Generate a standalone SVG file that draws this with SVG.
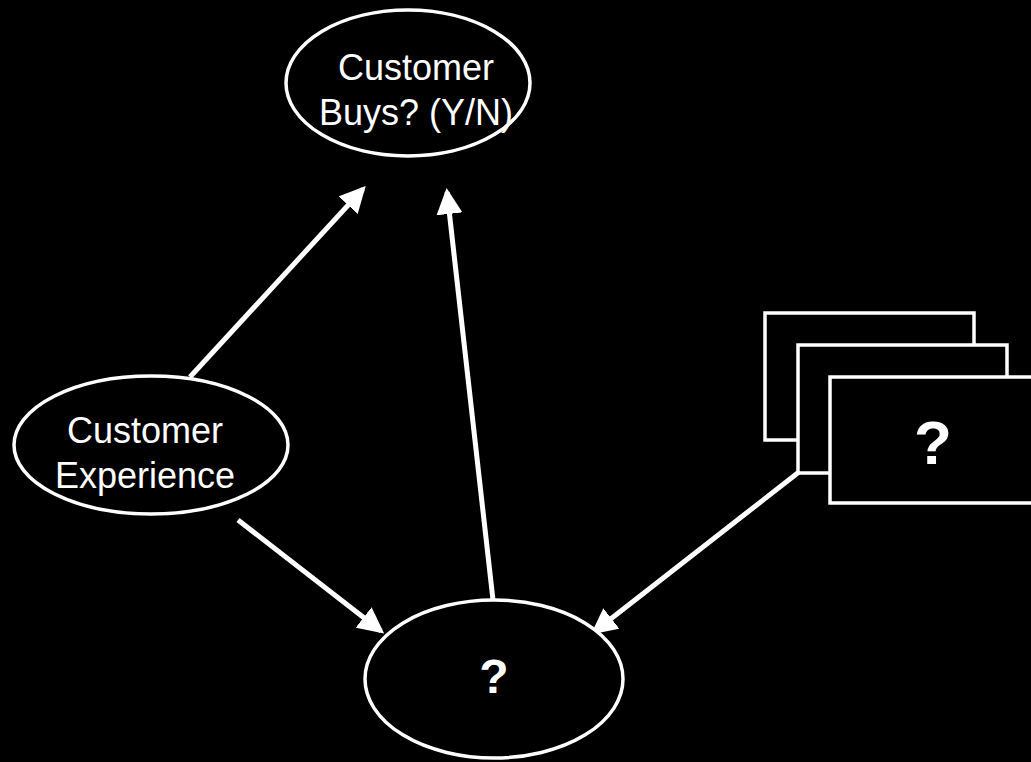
<svg xmlns="http://www.w3.org/2000/svg" width="1031" height="762" viewBox="0 0 1031 762">
  <style>
    .shape { fill: #000; stroke: #fff; stroke-width: 3.5; }
    .label { fill: #fff; font-family: "Liberation Sans", Arial, sans-serif; font-size: 36px; text-anchor: middle; }
    .q { font-weight: bold; }
    .edge { stroke: #fff; stroke-width: 5; fill: none; marker-end: url(#arrow); }
  </style>
  <defs>
    <marker id="arrow" markerUnits="userSpaceOnUse" viewBox="0 0 26 26" markerWidth="26" markerHeight="26" refX="22" refY="13" orient="auto">
      <path d="M0,0 L26,13 L0,26 Z" fill="#fff"/>
    </marker>
  </defs>
  <rect width="1031" height="762" fill="#000"/>

  <g id="connectors">
    <line class="edge" x1="190" y1="377" x2="363" y2="189"/>
    <line class="edge" x1="493" y1="600" x2="447" y2="192"/>
    <line class="edge" x1="238" y1="520" x2="381" y2="631"/>
    <line class="edge" x1="799" y1="472" x2="594" y2="632"/>
  </g>

  <g id="buys">
    <ellipse class="shape" cx="408" cy="83" rx="122" ry="73"/>
    <text class="label" x="416" y="80">Customer</text>
    <text class="label" x="416" y="125">Buys? (Y/N)</text>
  </g>

  <g id="experience">
    <ellipse class="shape" cx="151" cy="445" rx="137" ry="69"/>
    <text class="label" x="145" y="443">Customer</text>
    <text class="label" x="145" y="488">Experience</text>
  </g>

  <g id="unknown">
    <ellipse class="shape" cx="494" cy="679" rx="129" ry="79"/>
    <text class="label q" x="494" y="693" style="font-size:48px">?</text>
  </g>

  <g id="factors">
    <rect class="shape" x="765" y="313" width="209" height="127"/>
    <rect class="shape" x="798" y="345" width="209" height="128"/>
    <rect class="shape" x="830" y="377" width="209" height="126"/>
    <text class="label q" x="933" y="464" style="font-size:62px">?</text>
  </g>
</svg>
